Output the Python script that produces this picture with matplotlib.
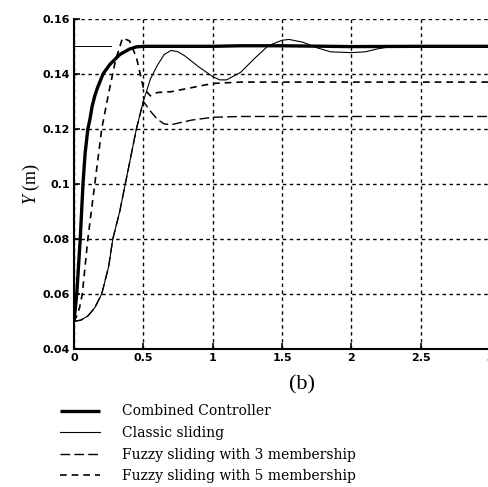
import matplotlib
matplotlib.use("Agg")
import matplotlib.pyplot as plt

# time (s) and position Y (m)
t_comb = [0, 0.01, 0.02, 0.03, 0.045, 0.055, 0.065, 0.08, 0.1, 0.115, 0.13, 0.15, 0.17, 0.21, 0.26,
          0.33, 0.4, 0.45, 0.5, 1.0, 1.2, 1.5, 2.0, 2.5, 3.0]
y_comb = [0.05, 0.055, 0.06, 0.068, 0.08, 0.09, 0.1, 0.111, 0.12, 0.1235, 0.128, 0.132, 0.135, 0.14, 0.1435,
          0.147, 0.149, 0.1498, 0.15, 0.15, 0.1502, 0.1502, 0.1499, 0.15, 0.15]

t_classic = [0, 0.05, 0.1, 0.15, 0.2, 0.25, 0.28, 0.33, 0.37, 0.41, 0.45, 0.5, 0.55, 0.6, 0.65, 0.7,
             0.75, 0.8, 0.9, 1.0, 1.05, 1.1, 1.2, 1.3, 1.4, 1.5, 1.55, 1.65, 1.75, 1.85, 2.0, 2.1,
             2.2, 2.3, 3.0]
y_classic = [0.05, 0.0505, 0.052, 0.055, 0.06, 0.07, 0.08, 0.09, 0.1, 0.11, 0.12, 0.13, 0.138, 0.143,
             0.147, 0.1485, 0.148, 0.1465, 0.1425, 0.139, 0.1378, 0.1378, 0.1405, 0.1455, 0.1502,
             0.1522, 0.1525, 0.1515, 0.1495, 0.148, 0.1477, 0.148, 0.1492, 0.15, 0.15]

t_fz3 = [0, 0.05, 0.1, 0.15, 0.2, 0.25, 0.28, 0.33, 0.37, 0.41, 0.45, 0.5, 0.55, 0.6, 0.65, 0.7,
         0.85, 1.0, 1.2, 3.0]
y_fz3 = [0.05, 0.0505, 0.052, 0.055, 0.06, 0.07, 0.08, 0.09, 0.1, 0.11, 0.12, 0.13, 0.1265, 0.1235,
         0.1218, 0.1215, 0.1232, 0.1242, 0.1245, 0.1245]

t_fz5 = [0, 0.02, 0.04, 0.06, 0.1, 0.15, 0.2, 0.25, 0.3, 0.35, 0.4, 0.45, 0.5, 0.55, 0.6, 0.7,
         0.85, 1.0, 1.2, 3.0]
y_fz5 = [0.05, 0.052, 0.055, 0.06, 0.08, 0.1, 0.12, 0.133, 0.145, 0.153, 0.152, 0.146, 0.135,
         0.132, 0.1332, 0.1335, 0.135, 0.1365, 0.137, 0.137]

t_ref = [0, 0.27]
y_ref = [0.15, 0.15]

labels = ["Combined Controller", "Classic sliding",
          "Fuzzy sliding with 3 membership", "Fuzzy sliding with 5 membership"]
xticks = [0, 0.5, 1, 1.5, 2, 2.5, 3]
xticklabels = ["0", "0.5", "1", "1.5", "2", "2.5", "3"]
yticks = [0.04, 0.06, 0.08, 0.1, 0.12, 0.14, 0.16]
yticklabels = ["0.04", "0.06", "0.08", "0.1", "0.12", "0.14", "0.16"]

plt.rcParams["mathtext.fontset"] = "custom"
plt.rcParams["mathtext.it"] = "Liberation Serif:italic"

fig = plt.figure(figsize=(4.89, 4.87), dpi=100)
ax = fig.add_axes([0.1513, 0.2834, 0.851, 0.678])

ax.plot(t_ref, y_ref, color="black", lw=0.7)
l1, = ax.plot(t_comb, y_comb, color="black", lw=2.4, solid_capstyle="butt")
l2, = ax.plot(t_classic, y_classic, color="black", lw=0.8)
l3, = ax.plot(t_fz3, y_fz3, color="black", lw=1.0, linestyle=(0, (7, 3)))
l4, = ax.plot(t_fz5, y_fz5, color="black", lw=1.2, linestyle=(0, (4, 3)))

ax.set_xlim(0, 3)
ax.set_ylim(0.04, 0.16)
ax.set_xticks(xticks)
ax.set_xticklabels(xticklabels)
ax.set_yticks(yticks)
ax.set_yticklabels(yticklabels)
ax.grid(True, color="black", linestyle=(0, (2.5, 2.5)), lw=1.0)
for s in ["top", "right"]:
    ax.spines[s].set_visible(False)
for s in ["left", "bottom"]:
    ax.spines[s].set_linewidth(1.5)
ax.tick_params(direction="in", length=4, width=1.2, pad=3)
for lab in ax.get_xticklabels() + ax.get_yticklabels():
    lab.set_fontfamily("DejaVu Sans")
    lab.set_fontweight("bold")
    lab.set_fontsize(8)

ax.set_ylabel("$\\mathit{Y}$ (m)", family="Liberation Serif", fontsize=13, labelpad=0)

fig.text(0.617, 0.209, "(b)", family="Liberation Serif", fontsize=16, ha="center", va="center")

fig.legend([l1, l2, l3, l4], labels, loc="upper left", bbox_to_anchor=(0.111, 0.181),
           frameon=False, prop={"family": "DejaVu Serif", "size": 10},
           handlelength=2.9, handletextpad=1.6, labelspacing=0.55, borderaxespad=0)

fig.savefig("out.png", dpi=100)
